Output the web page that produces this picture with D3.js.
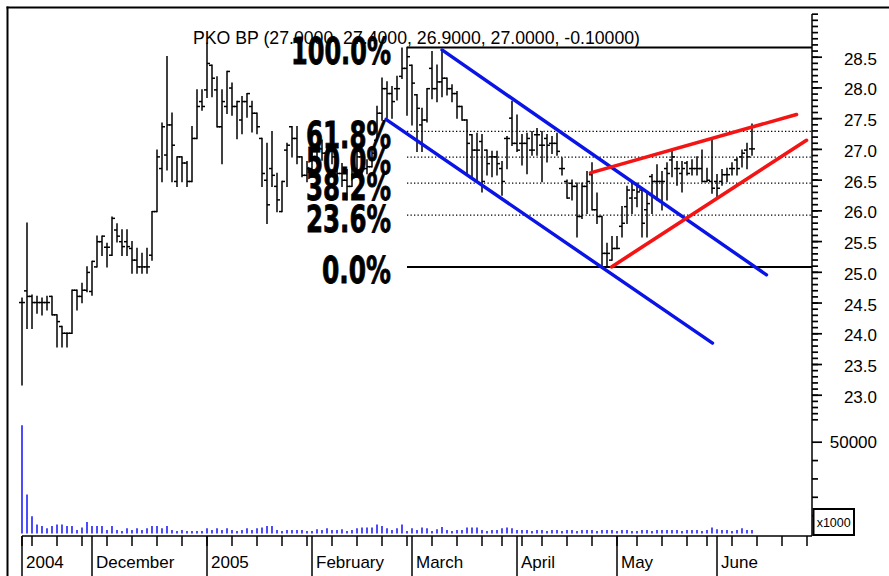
<!DOCTYPE html>
<html><head><meta charset="utf-8">
<script src="https://cdn.jsdelivr.net/npm/d3@7"></script>
<style>body{margin:0;background:#fff}svg{display:block}</style>
</head><body><svg id="c" width="889" height="576"></svg>
<script>
// ---------------- data ----------------
const title = "PKO BP (27.0000, 27.4000, 26.9000, 27.0000, -0.10000)";
const startDate = "2004-11-10";
const holidays = ["2004-11-11","2005-03-25","2005-03-28","2005-04-08","2005-05-03","2005-05-26"];
const futureDays = 12;

const opens = [24.50,24.69,24.60,24.50,24.50,24.50,24.60,24.30,24.11,24.00,24.00,24.70,24.60,24.70,
24.68,25.08,25.49,25.40,25.27,25.68,25.49,25.49,25.38,25.19,25.08,25.08,25.27,25.98,
26.68,26.90,27.39,26.47,26.87,26.77,26.47,27.17,27.77,27.96,28.36,27.96,27.36,27.69,
27.99,27.69,27.47,27.77,27.69,27.58,27.17,26.49,26.68,26.39,25.98,26.98,27.36,27.17,
26.87,26.57,26.68,26.87,27.00,26.93,26.98,26.87,26.60,26.49,26.39,26.68,26.87,26.68,
26.71,27.14,27.58,27.98,27.90,27.98,28.18,28.31,28.36,27.88,27.39,27.47,28.31,27.98,
28.09,28.15,27.98,27.90,27.69,27.47,27.23,26.98,27.12,26.98,26.87,26.87,26.68,27.17,
27.50,27.09,27.09,27.09,26.98,27.23,27.06,27.17,27.09,27.09,26.68,26.47,26.44,26.39,
25.90,26.39,26.58,26.01,25.90,25.30,25.19,25.38,25.74,26.06,26.20,26.20,26.33,26.01,
26.55,26.47,26.47,26.68,26.82,26.68,26.60,26.77,26.68,26.68,26.68,26.47,26.47,26.47,
26.47,26.58,26.68,26.82,26.87,26.98,27.00];
const highs = [24.57,25.79,24.62,24.60,24.57,24.60,24.60,24.30,24.11,24.00,24.70,24.70,24.81,25.08,
25.17,25.58,25.58,25.46,25.89,25.78,25.68,25.68,25.49,25.38,25.30,25.38,25.98,26.98,
27.42,28.50,27.58,26.87,26.87,26.79,27.36,27.96,27.96,28.72,28.36,28.17,27.96,28.26,
28.07,27.77,27.85,27.90,27.77,27.58,27.17,27.09,27.28,26.60,26.47,27.09,27.36,27.36,
26.87,26.79,26.98,27.09,27.14,27.06,27.14,26.93,26.76,26.66,26.76,26.98,26.90,26.82,
27.00,27.69,28.15,28.09,28.01,28.18,28.64,28.65,28.36,27.88,27.66,27.98,28.58,28.36,
28.61,28.15,28.04,27.93,27.69,27.47,27.23,27.25,27.23,26.98,26.96,26.96,26.79,27.20,
27.77,27.55,27.23,27.25,27.28,27.33,27.28,27.23,27.20,27.25,26.85,26.49,26.49,26.44,
26.44,26.63,26.77,26.28,25.90,25.46,25.57,25.57,26.06,26.39,26.47,26.44,26.33,26.30,
26.58,26.74,26.63,26.77,26.98,26.79,26.79,26.79,26.82,26.87,26.98,26.68,27.17,26.58,
26.66,26.68,26.77,26.85,26.98,27.09,27.40];
const lows = [23.16,24.08,24.08,24.33,24.30,24.38,24.30,23.78,23.78,23.78,24.00,24.38,24.50,24.68,
24.62,25.08,25.27,25.08,25.27,25.49,25.27,25.27,24.98,24.98,24.98,24.98,25.19,25.98,
26.47,26.66,26.47,26.39,26.47,26.39,26.47,27.17,27.63,27.84,27.85,27.36,26.76,27.58,
27.55,27.17,27.25,27.52,27.28,27.25,26.39,25.79,26.39,25.98,25.98,26.39,26.87,26.76,
26.55,26.47,26.60,26.76,26.82,26.71,26.76,26.55,26.39,26.17,26.39,26.55,26.57,26.60,
26.71,27.14,27.47,27.50,27.50,27.80,28.15,27.55,27.39,26.96,26.96,27.44,27.82,27.77,
27.85,27.88,27.77,27.50,27.47,26.58,26.52,26.47,26.30,26.58,26.55,26.58,26.25,26.68,
27.06,26.96,26.74,26.60,26.90,26.90,26.47,26.79,26.93,26.90,26.58,26.20,26.17,25.57,
25.87,25.95,26.01,25.79,25.08,25.08,25.19,25.38,25.57,25.79,25.95,26.06,25.57,25.57,
25.95,26.17,26.01,26.17,26.55,26.41,26.30,26.58,26.58,26.58,26.47,26.47,26.28,26.22,
26.41,26.47,26.58,26.58,26.71,26.68,26.90];
const closes = [24.50,24.60,24.50,24.50,24.50,24.50,24.30,24.19,24.00,24.00,24.70,24.60,24.70,24.99,
25.17,25.49,25.58,25.40,25.87,25.58,25.41,25.41,25.19,25.08,25.08,25.08,25.98,26.87,
27.36,27.39,27.06,26.87,26.77,26.47,27.17,27.69,27.69,28.39,28.15,27.36,27.77,28.26,
27.69,27.77,27.77,27.90,27.58,27.36,26.60,26.09,26.57,26.17,26.47,27.06,27.17,26.87,
26.57,26.68,26.87,27.00,26.93,26.98,26.87,26.60,26.49,26.39,26.68,26.87,26.68,26.71,
26.93,27.58,27.98,27.90,27.77,27.98,28.31,28.50,28.07,27.66,27.47,27.98,27.98,28.09,
28.15,27.98,27.90,27.69,27.47,27.09,26.98,26.98,26.47,26.76,26.87,26.76,26.47,27.17,
27.09,26.98,27.09,27.17,26.98,27.23,27.06,27.06,27.09,26.96,26.68,26.20,26.39,25.90,
26.39,26.47,26.01,25.90,25.30,25.30,25.38,25.38,25.79,26.33,26.33,26.30,25.79,26.11,
26.47,26.47,26.47,26.60,26.87,26.68,26.68,26.60,26.68,26.68,26.47,26.49,26.36,26.36,
26.58,26.58,26.68,26.68,26.93,26.87,27.00];
const volumes = [58900,21200,9400,4900,4100,2800,4100,4900,4900,4100,4100,1900,3200,6200,
4100,4100,4100,1900,4100,1900,1400,2800,1900,2800,1900,2800,4100,4100,
2800,4100,1900,1400,1900,1400,1400,1400,1400,2800,1900,2800,1900,2800,
1900,1400,1900,2800,1900,2800,3200,4100,4100,1900,1400,1900,1900,1900,
1900,1400,1400,2300,1900,2800,1900,1900,2300,1400,1900,2800,3200,3200,
3200,4900,4100,2800,1900,2800,4900,1400,2800,1900,3200,2800,1400,2300,
3500,1900,1400,1900,1900,3200,3200,3200,1900,1400,1900,1900,2800,3200,
2800,1900,1900,1900,1400,1900,1900,1400,1900,1900,1400,1900,1900,1400,
1900,1900,1900,1400,1900,1900,1900,1400,1900,1900,1400,1400,1900,1900,
1400,1900,1900,1900,1900,1900,1400,1900,1900,1900,1400,1900,3200,2300,
1900,1900,1400,1900,2800,1900,1900];

const priceTicks = [23.0,23.5,24.0,24.5,25.0,25.5,26.0,26.5,27.0,27.5,28.0,28.5];
const priceTickLabels = ["23.0","23.5","24.0","24.5","25.0","25.5","26.0","26.5","27.0","27.5","28.0","28.5"];
const volTicks = [50000];
const volTickLabels = ["50000"];
const volUnit = "x1000";
const monthLabels = ["2004","December","2005","February","March","April","May","June"];

const fibLevels = [0, 23.6, 38.2, 50.0, 61.8, 100.0];
const fibLabels = ["0.0%","23.6%","38.2%","50.0%","61.8%","100.0%"];
const fibLow = 25.08, fibHigh = 28.65, fibStartIndex = 77;

const blueLines = [[[84,28.61],[148.9,24.95]], [[72.8,27.48],[138.1,23.84]]];
const redLines  = [[[113.7,26.61],[154.9,27.56]], [[117.9,25.08],[156.9,27.14]]];

// ---------------- dates ----------------
const hol = new Set(holidays);
const fmt = d3.utcFormat("%Y-%m-%d");
const dates = [];
{
  let d = new Date(startDate + "T00:00:00Z");
  while (dates.length < opens.length + futureDays) {
    const wd = d.getUTCDay();
    if (wd !== 0 && wd !== 6 && !hol.has(fmt(d))) dates.push(new Date(d));
    d = d3.utcDay.offset(d, 1);
  }
}

// ---------------- scales ----------------
const svg = d3.select("#c");
const W = 889, H = 576;
const axisX = 812, baseY = 536;
const x = d3.scaleLinear().domain([0, dates.length - 1]).range([22, axisX]);
const y = d3.scaleLinear().domain([23.5, 28.5]).range([364, 56.7]);
const yv = d3.scaleLinear().domain([0, 50000]).range([baseY - 2.5, 441.7]);
const FONT = "'Liberation Sans', Arial, Helvetica, sans-serif";

svg.append("rect").attr("width", W).attr("height", H).attr("fill", "#fff");

// frame
svg.append("line").attr("x1", 6.5).attr("x2", W).attr("y1", 7.5).attr("y2", 7.5)
  .attr("stroke", "#000").attr("stroke-width", 2);
svg.append("line").attr("x1", 7.5).attr("x2", 7.5).attr("y1", 6.5).attr("y2", H)
  .attr("stroke", "#000").attr("stroke-width", 2);

// right axis line
svg.append("line").attr("x1", axisX).attr("x2", axisX).attr("y1", 14).attr("y2", baseY)
  .attr("stroke", "#000").attr("stroke-width", 1.5);

// price minor ticks
const minorVals = d3.range(226, 293).map(v => v / 10);
const minorAxis = d3.axisRight(y).tickValues(minorVals).tickSize(6).tickFormat("");
const gMinor = svg.append("g").attr("transform", `translate(${axisX},0)`).call(minorAxis);
gMinor.select(".domain").remove();
gMinor.selectAll("line").attr("stroke-width", 1.7);

const majorAxis = d3.axisRight(y).tickValues(priceTicks).tickSize(10)
  .tickFormat((d, i) => priceTickLabels[i]);
const gMajor = svg.append("g").attr("transform", `translate(${axisX},0)`).call(majorAxis);
gMajor.select(".domain").remove();
gMajor.selectAll("line").attr("stroke-width", 1.7);
gMajor.selectAll("text").attr("x", 65).attr("dy", "0.62em").attr("y", -3)
  .attr("text-anchor", "end").attr("font-family", FONT).attr("font-size", 17).attr("fill", "#000");

// volume ticks
const volMinor = d3.axisRight(yv).tickValues([10000, 20000, 30000, 40000]).tickSize(6).tickFormat("");
const gvm = svg.append("g").attr("transform", `translate(${axisX},0)`).call(volMinor);
gvm.select(".domain").remove();
gvm.selectAll("line").attr("stroke-width", 1.7);
const volMajor = d3.axisRight(yv).tickValues(volTicks).tickSize(10).tickFormat((d, i) => volTickLabels[i]);
const gvM = svg.append("g").attr("transform", `translate(${axisX},0)`).call(volMajor);
gvM.select(".domain").remove();
gvM.selectAll("line").attr("stroke-width", 1.7);
gvM.selectAll("text").attr("x", 65).attr("dy", "0.35em")
  .attr("text-anchor", "end").attr("font-family", FONT).attr("font-size", 17).attr("fill", "#000");

// x1000 box
svg.append("rect").attr("x", 813.5).attr("y", 509).attr("width", 40.5).attr("height", 26)
  .attr("fill", "#fff").attr("stroke", "#000").attr("stroke-width", 2);
svg.append("text").attr("x", 833.7).attr("y", 527).attr("text-anchor", "middle")
  .attr("font-family", FONT).attr("font-size", 12.5).text(volUnit);

// bottom axis line
svg.append("line").attr("x1", x(0)).attr("x2", axisX).attr("y1", baseY).attr("y2", baseY)
  .attr("stroke", "#000").attr("stroke-width", 1.5);

// month & week ticks
const monthIdx = [], weekIdx = [];
dates.forEach((d, i) => {
  if (i === 0 || d.getUTCMonth() !== dates[i - 1].getUTCMonth()) monthIdx.push(i);
  if (i === 0 || +d3.utcMonday.floor(d) !== +d3.utcMonday.floor(dates[i - 1])) weekIdx.push(i);
});
svg.append("g").selectAll("line").data(weekIdx).join("line")
  .attr("x1", d => x(d)).attr("x2", d => x(d)).attr("y1", baseY).attr("y2", baseY + 10)
  .attr("stroke", "#000").attr("stroke-width", 1.5);
svg.append("g").selectAll("line").data(monthIdx).join("line")
  .attr("x1", d => x(d)).attr("x2", d => x(d)).attr("y1", baseY).attr("y2", H)
  .attr("stroke", "#000").attr("stroke-width", 1.5);
svg.append("g").selectAll("text").data(monthIdx).join("text")
  .attr("x", d => x(d) + 4).attr("y", 568)
  .attr("font-family", FONT).attr("font-size", 17).attr("fill", "#000")
  .text((d, i) => monthLabels[i]);

// volume bars
svg.append("g").selectAll("line").data(volumes).join("line")
  .attr("x1", (d, i) => x(i)).attr("x2", (d, i) => x(i))
  .attr("y1", yv(0)).attr("y2", d => yv(d))
  .attr("stroke", "#0000ff").attr("stroke-width", 1.4);

// fibonacci lines
const fibPrice = l => fibLow + (fibHigh - fibLow) * l / 100;
const gf = svg.append("g");
fibLevels.forEach((l, k) => {
  const solid = (l === 0 || l === 100);
  gf.append("line").attr("x1", x(fibStartIndex)).attr("x2", axisX)
    .attr("y1", y(fibPrice(l))).attr("y2", y(fibPrice(l)))
    .attr("stroke", "#000").attr("stroke-width", solid ? 2 : 1.2)
    .attr("stroke-dasharray", solid ? null : "1.3,2.2");
});

// OHLC bars
const gb = svg.append("g").attr("stroke", "#000").attr("stroke-width", 1.5);
opens.forEach((o, i) => {
  const cx = x(i);
  gb.append("line").attr("x1", cx).attr("x2", cx).attr("y1", y(highs[i]) - 0.7).attr("y2", y(lows[i]) + 0.7);
  gb.append("line").attr("x1", cx - 3).attr("x2", cx).attr("y1", y(o)).attr("y2", y(o));
  gb.append("line").attr("x1", cx).attr("x2", cx + 3).attr("y1", y(closes[i])).attr("y2", y(closes[i]));
});

// fib labels
const fibLen = s => s.length === 6 ? 100 : (s.length === 5 ? 85 : 69);
fibLevels.forEach((l, k) => {
  gf.append("text").attr("x", 391).attr("y", y(fibPrice(l)) + 16.5)
    .attr("text-anchor", "end").attr("font-family", "'DejaVu Sans', sans-serif")
    .attr("font-weight", "bold").attr("font-size", 38)
    .attr("textLength", fibLen(fibLabels[k])).attr("lengthAdjust", "spacingAndGlyphs")
    .attr("fill", "#000").attr("stroke", "#000").attr("stroke-width", 0.9)
    .text(fibLabels[k]);
});

// title
svg.append("text").attr("x", 193).attr("y", 44).attr("font-family", FONT)
  .attr("font-size", 17.5).attr("textLength", 447).attr("lengthAdjust", "spacingAndGlyphs")
  .attr("fill", "#000").text(title);

// trend lines
const line = d3.line().x(d => x(d[0])).y(d => y(d[1]));
svg.append("g").selectAll("path").data(blueLines).join("path")
  .attr("d", line).attr("stroke", "#0a14e6").attr("stroke-width", 3.4)
  .attr("stroke-linecap", "round").attr("fill", "none");
svg.append("g").selectAll("path").data(redLines).join("path")
  .attr("d", line).attr("stroke", "#f51414").attr("stroke-width", 3.6)
  .attr("stroke-linecap", "round").attr("fill", "none");
</script></body></html>
